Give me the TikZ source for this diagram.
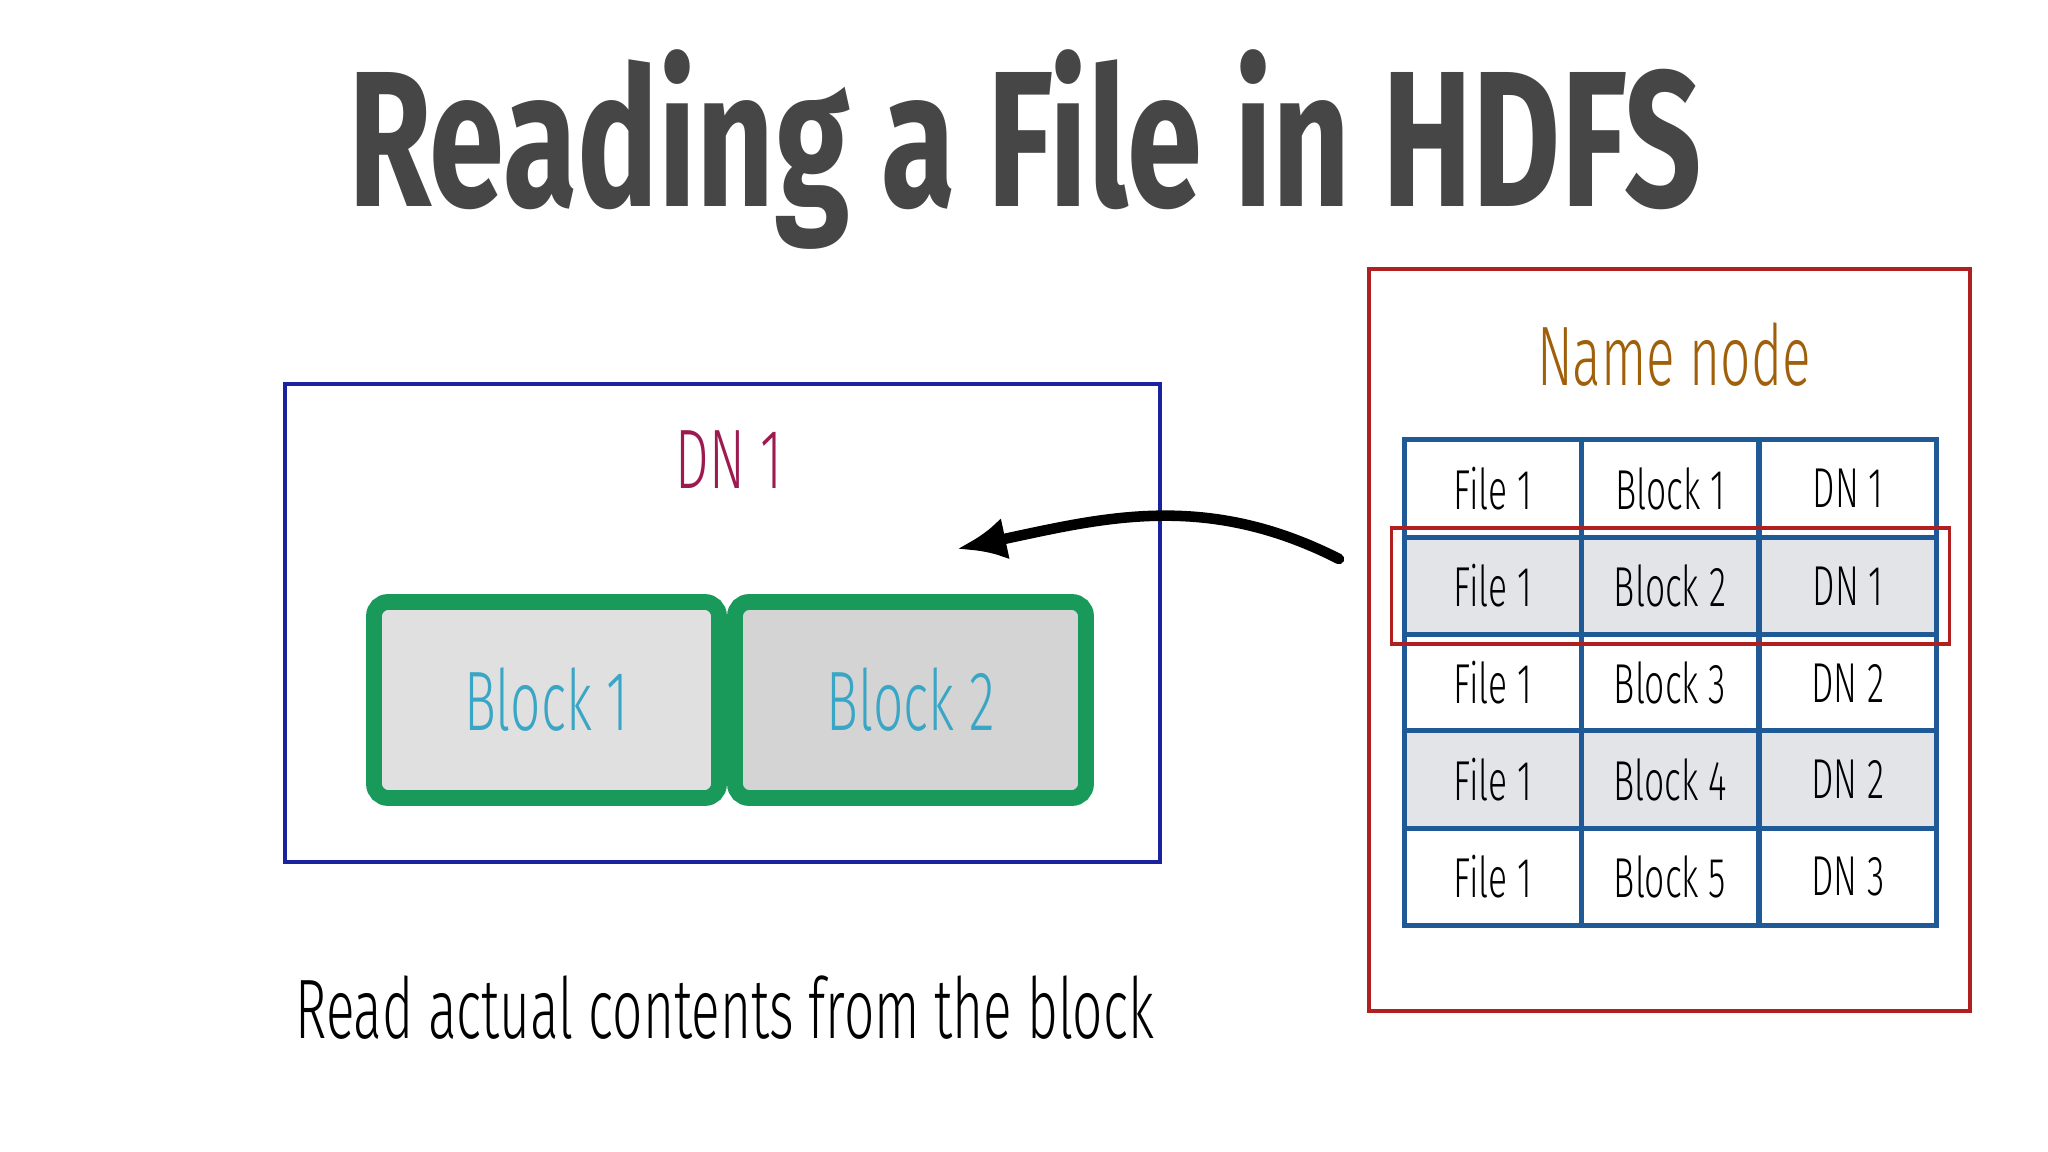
\documentclass[tikz,border=0pt]{standalone}
\usepackage{fontspec}
\usepackage{xcolor}
\usepackage{tikz}
\usetikzlibrary{positioning,fit,arrows.meta}
\setmainfont{Fira Sans}[UprightFont=* Light, FakeStretch=0.63]
\newfontfamily\titlefont{Fira Sans}[UprightFont=* Bold, FakeStretch=0.70]

\definecolor{titlegray}{HTML}{464646}
\definecolor{dnblue}{HTML}{1A22A0}
\definecolor{dnred}{HTML}{9C1A50}
\definecolor{blockgreen}{HTML}{1A9A5A}
\definecolor{blocktext}{HTML}{3AA6C5}
\definecolor{nnred}{HTML}{B02020}
\definecolor{nnbrown}{HTML}{A0600A}
\definecolor{tabblue}{HTML}{1F5A96}
\definecolor{rowgray}{HTML}{E2E4E8}

\tikzset{
  serverbox/.style={draw, line width=0.9pt, inner sep=0pt},
  blockbox/.style={draw=blockgreen, line width=4.5pt, rounded corners=4pt, inner sep=0pt,
    minimum height=196*0.01cm, text=blocktext, font=\fontsize{24}{28}\selectfont},
  cell/.style={draw=tabblue, line width=1.4pt, inner sep=0pt, minimum width=177*0.01cm,
    minimum height=97.4*0.01cm, font=\fontsize{16}{19}\selectfont},
}

\begin{document}
\begin{tikzpicture}[x=0.01cm, y=-0.01cm]
  \useasboundingbox[fill=white] (0,0) rectangle (2048,1152);

  % title
  \node[text=titlegray, font=\titlefont\fontsize{55}{60}\selectfont] (title) at (1025,150) {Reading a File in HDFS};

  % data node
  \node[serverbox, draw=dnblue, minimum width=875*0.01cm, minimum height=478*0.01cm] (dn) at (722.5,623) {};
  \node[text=dnred, font=\fontsize{24}{28}\selectfont] (dnlabel) at (729,460) {DN 1};
  \node[blockbox, fill=black!12!white, minimum width=345*0.01cm] (blk1) at (546.5,700) {Block 1};
  \node[blockbox, fill=black!17!white, minimum width=351*0.01cm] (blk2) at (910.5,700) {Block 2};
  \node[font=\fontsize{24}{28}\selectfont, anchor=west] (readtxt) at (283,1008) {Read actual contents from the block};

  % name node
  \node[serverbox, draw=nnred, minimum width=601*0.01cm, minimum height=742*0.01cm] (nn) at (1669.5,640) {};
  \node[text=nnbrown, font=\fontsize{24}{28}\selectfont] (nnlabel) at (1674,355) {Name node};

  % block table
  \foreach \r/\y/\b/\d/\f in {1/488.5/Block 1/DN 1/white, 2/586/Block 2/DN 1/rowgray,
      3/683/Block 3/DN 2/white, 4/779.5/Block 4/DN 2/rowgray, 5/877/Block 5/DN 3/white} {
    \node[cell, fill=\f] (c\r1) at (1493,\y) {File 1};
    \node[cell, fill=\f] (c\r2) at (1670,\y) {\b};
    \node[cell, fill=\f] (c\r3) at (1848,\y) {\d};
  }
  \node[draw=nnred, line width=1.1pt, inner xsep=3pt, inner ysep=2pt, fit=(c21)(c23)] (hl) {};

  % lookup arrow
  \coordinate (from) at (1339,559);
  \coordinate (to) at (957,549);
  \draw[line width=3pt, line cap=round, -{Latex[length=14pt, width=12pt]}] (from) to[out=153, in=12] (to);
\end{tikzpicture}
\end{document}
